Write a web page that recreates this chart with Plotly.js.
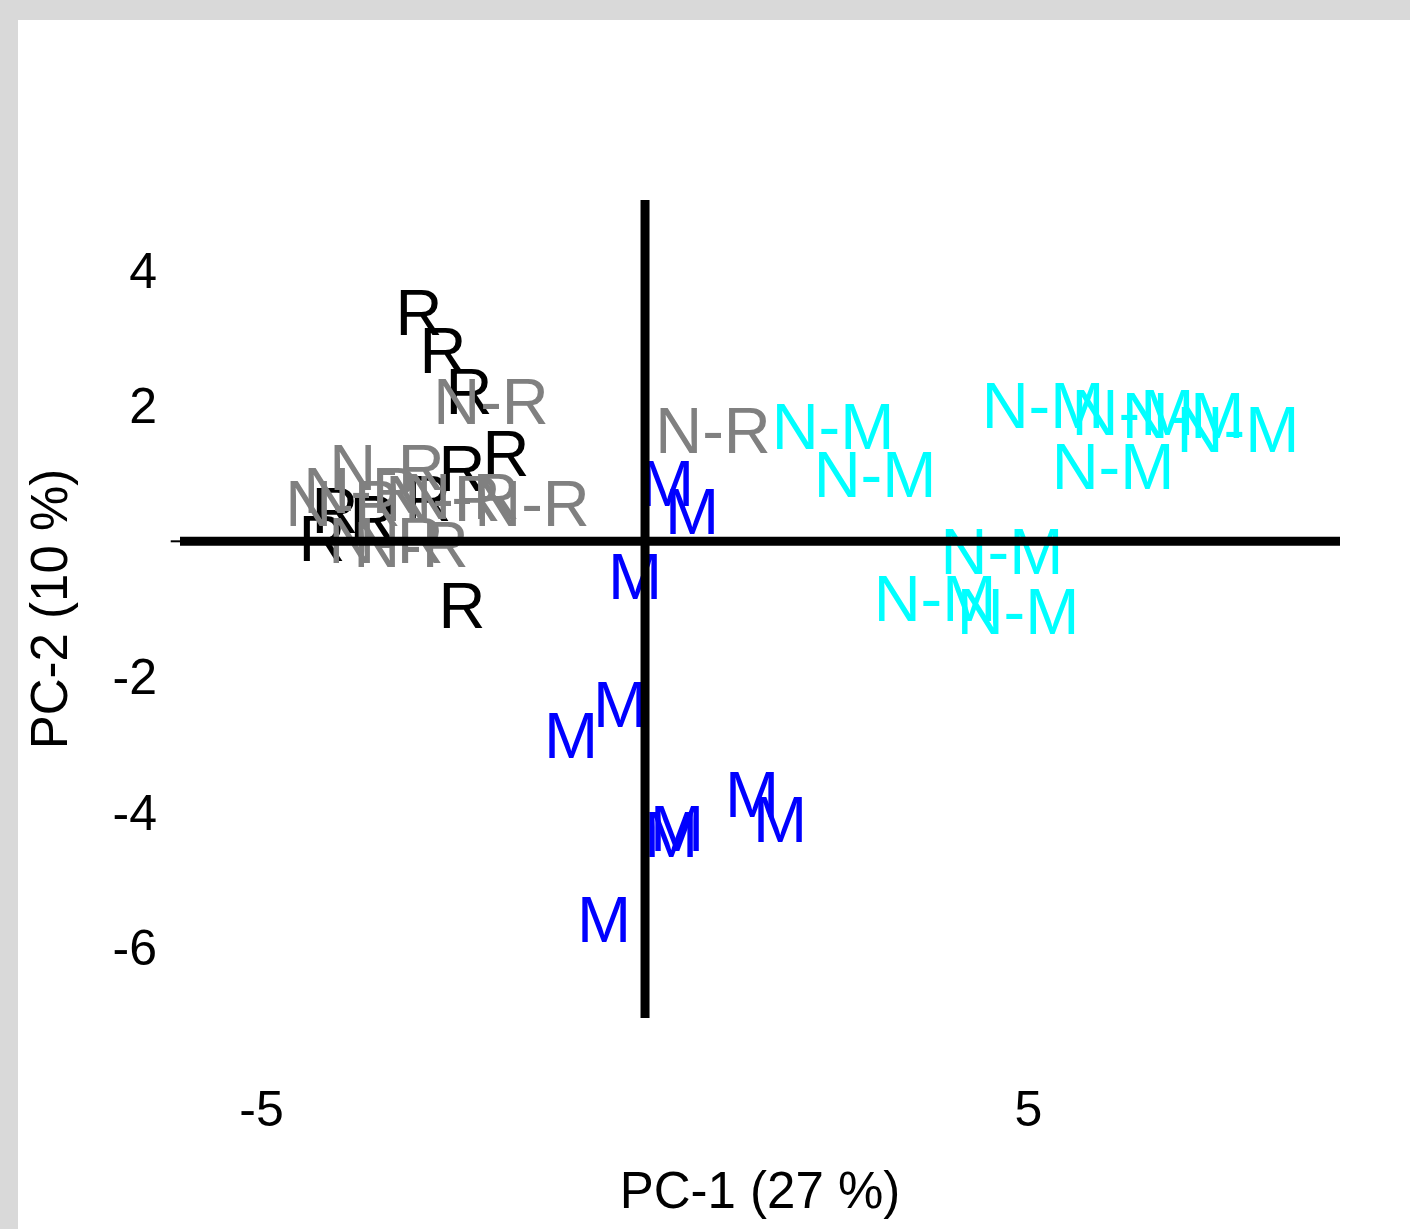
<!DOCTYPE html>
<html><head><meta charset="utf-8">
<script src="https://cdn.plot.ly/plotly-3.0.1.min.js"></script>
<style>
html,body{margin:0;padding:0;background:#d9d9d9;overflow:hidden;}
#plot{position:absolute;left:18px;top:20px;width:1392px;height:1209px;background:#fff;}
</style></head><body><div id="plot"></div>
<script>
// PCA scores
const rX  = [-2.947, -2.634, -2.295, -1.812, -2.386, -4.211, -3.546, -2.829, -2.386, -4.042];
const rY  = [ 3.287,  2.726,  2.121,  1.205,  0.983, -0.051,  0.245,  0.540, -1.040,  0.363];
const nrX = [-2.008,  0.887, -3.364, -3.703, -3.937, -2.634, -2.386, -1.473, -3.377, -3.051];
const nrY = [ 1.973,  1.544,  0.998,  0.658,  0.466,  0.540,  0.570,  0.466, -0.080, -0.139];
const mX  = [ 0.287,  0.613, -0.130, -0.965, -0.326,  0.339,  0.417,  1.395,  1.760, -0.535];
const mY  = [ 0.762,  0.348, -0.612, -2.960, -2.502, -4.425, -4.336, -3.834, -4.203, -5.677];
const nmX = [ 2.451,  2.999,  5.189,  6.362,  7.014,  7.731,  6.102,  4.654,  3.781,  4.863];
const nmY = [ 1.604,  0.895,  1.914,  1.810,  1.766,  1.559,  1.013, -0.243, -0.938, -1.130];

const groups = ["R", "N-R", "M", "N-M"];
const groupColors = ["#000000", "#808080", "#0000ff", "#00ffff"];
const xTicks = [-5, 5];
const yTicks = [-6, -4, -2, 2, 4];
const xTitle = "PC-1 (27 %)";
const yTitle = "PC-2 (10 %)";

const FONT = "Liberation Sans, Arial, sans-serif";
const xs = [rX, nrX, mX, nmX], ys = [rY, nrY, mY, nmY];
const traces = groups.map((g, i) => ({
  type: "scatter", mode: "text",
  x: xs[i], y: ys[i],
  text: xs[i].map(() => g),
  textposition: "middle center",
  textfont: {family: FONT, size: 65, color: groupColors[i]},
  hoverinfo: "skip", showlegend: false, cliponaxis: false
}));

const layout = {
  width: 1392, height: 1209,
  margin: {l: 162, r: 70, t: 180, b: 211, pad: 0},
  paper_bgcolor: "#ffffff", plot_bgcolor: "#ffffff",
  font: {family: FONT, color: "#000"},
  showlegend: false, hovermode: false,
  xaxis: {
    range: [-6.063, 9.061], showgrid: false, zeroline: false, showline: false,
    tickvals: xTicks, ticktext: xTicks.map(String), ticks: "",
    tickfont: {family: FONT, size: 50, color: "#000"},
    ticklabelstandoff: 57,
    title: {text: xTitle, font: {family: FONT, size: 51, color: "#000"}, standoff: 36}
  },
  yaxis: {
    range: [-7.041, 5.041], showgrid: false, zeroline: false, showline: false,
    tickvals: yTicks, ticktext: yTicks.map(String), ticks: "",
    tickfont: {family: FONT, size: 50, color: "#000"},
    ticklabelstandoff: 22,
    title: {text: yTitle, font: {family: FONT, size: 51, color: "#000"}, standoff: 28}
  },
  shapes: [
    {type: "line", xref: "x", yref: "paper", x0: 0, x1: 0, y0: 0, y1: 1, line: {color: "#000", width: 9}},
    {type: "line", xref: "paper", yref: "y", x0: 0, x1: 1, y0: 0, y1: 0, line: {color: "#000", width: 9}},
    {type: "line", xref: "paper", yref: "y", x0: -0.008, x1: 0, y0: 0, y1: 0, line: {color: "#000", width: 2}}
  ]
};

Plotly.newPlot("plot", traces, layout, {displayModeBar: false, staticPlot: true});
</script></body></html>
